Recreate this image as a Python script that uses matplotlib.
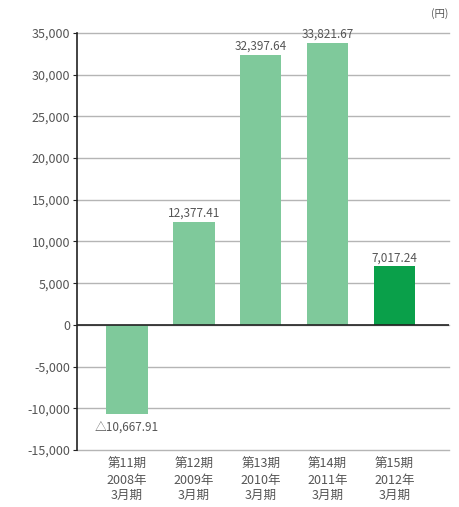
import matplotlib.pyplot as plt
import numpy as np

plt.rcParams['font.family'] = ['Noto Sans CJK JP', 'DejaVu Sans']

periods = ['第11期\n2008年\n3月期', '第12期\n2009年\n3月期', '第13期\n2010年\n3月期',
           '第14期\n2011年\n3月期', '第15期\n2012年\n3月期']
values = [-10667.91, 12377.41, 32397.64, 33821.67, 7017.24]
value_labels = ['△10,667.91', '12,377.41', '32,397.64', '33,821.67', '7,017.24']
yticks = np.arange(-15000, 35001, 5000)

light = '#7fc99b'
dark = '#0aa04a'
text_color = '#555555'
colors = [light, light, light, light, dark]

fig = plt.figure(figsize=(4.59, 5.07), dpi=100)
ax = fig.add_axes([77 / 459, 1 - 450 / 507, 372 / 459, 417 / 507])

x = np.arange(len(values))
ax.bar(x, values, width=0.62, color=colors, zorder=3)

for xi, v, lab in zip(x, values, value_labels):
    if v >= 0:
        ax.text(xi, v + 250, lab, ha='center', va='bottom', fontsize=8.5, color=text_color, zorder=4)
    else:
        ax.text(xi, v - 900, lab, ha='center', va='top', fontsize=8.5, color=text_color, zorder=4)

ax.set_ylim(-15000, 35000)
ax.set_xlim(-0.75, 4.82)
ax.set_yticks(yticks)
ax.set_yticklabels([f'{t:,}' for t in yticks], fontsize=9, color=text_color)
ax.yaxis.grid(True, color='#b5b5b5', linewidth=1, zorder=0)
for gl in ax.get_ygridlines():
    gl.set_clip_on(False)
ax.axhline(0, color='#222222', linewidth=1.2, zorder=4)
ax.tick_params(axis='y', length=3, color='#222222', pad=2)

ax.set_xticks(x)
ax.set_xticklabels(periods, fontsize=9, color=text_color, linespacing=1.25)
ax.tick_params(axis='x', length=0, pad=6)

for side in ['top', 'right', 'bottom']:
    ax.spines[side].set_visible(False)
ax.spines['left'].set_color('#222222')
ax.spines['left'].set_linewidth(1.2)

fig.text(440 / 459, 1 - 14 / 507, '(円)', ha='center', va='center', fontsize=7.5, color=text_color)

fig.savefig('out.png', dpi=100)
